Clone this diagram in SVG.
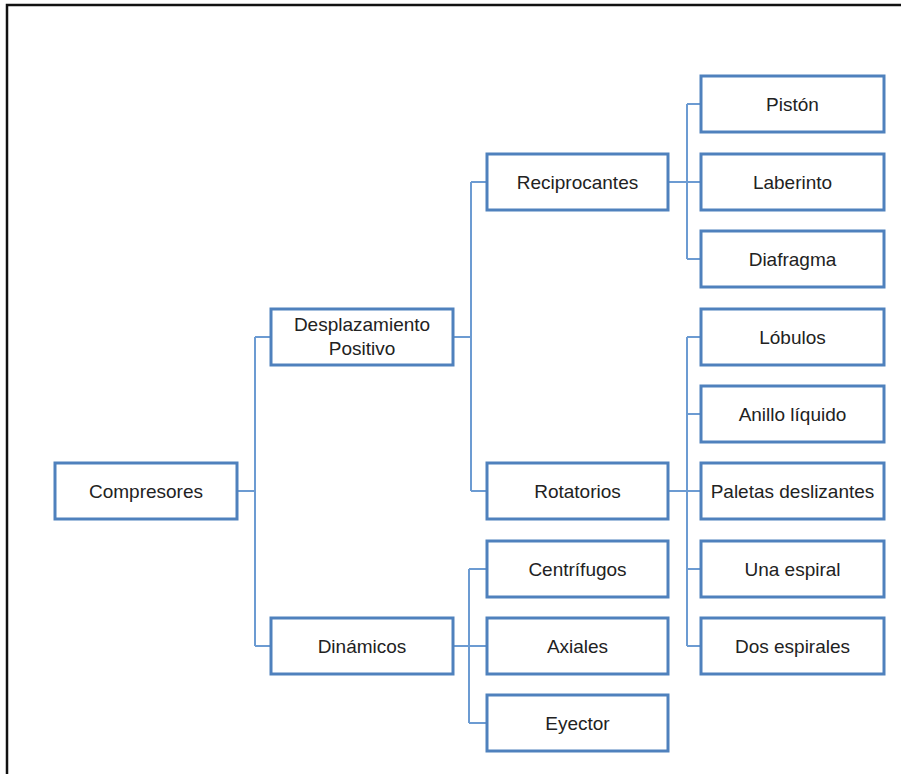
<svg xmlns="http://www.w3.org/2000/svg" width="901" height="774" viewBox="0 0 901 774">
<style>
.box{fill:#fff;stroke:#4F81BD;stroke-width:3}
.lbl{font-family:"Liberation Sans",Arial,sans-serif;font-size:19px;fill:#222;text-anchor:middle}
.con{fill:none;stroke:#6C9BD2;stroke-width:2}
.frame{fill:none;stroke:#111;stroke-width:2.5}
</style>
<rect width="901" height="774" fill="#fff"/>
<path class="frame" d="M7,774 V5 H901"/>
<g id="connectors">
<path class="con" d="M237,491 H255 M255,337 V646 M255,337 H271 M255,646 H271"/>
<path class="con" d="M453,337 H471 M471,182 V491 M471,182 H487 M471,491 H487"/>
<path class="con" d="M668,182 H701 M687,104 V259 M687,104 H701 M687,259 H701"/>
<path class="con" d="M668,491 H701 M687,337 V646 M687,337 H701 M687,414 H701 M687,569 H701 M687,646 H701"/>
<path class="con" d="M453,646 H487 M469,569 V723 M469,569 H487 M469,723 H487"/>
</g>
<g id="compresores"><rect class="box" x="55" y="463" width="182" height="56"/><text class="lbl" x="146" y="498">Compresores</text></g>
<g id="desplazamiento"><rect class="box" x="271" y="309" width="182" height="56"/><text class="lbl" x="362" y="331">Desplazamiento</text><text class="lbl" x="362" y="355">Positivo</text></g>
<g id="dinamicos"><rect class="box" x="271" y="618" width="182" height="56"/><text class="lbl" x="362" y="653">Dinámicos</text></g>
<g id="reciprocantes"><rect class="box" x="487" y="154" width="181" height="56"/><text class="lbl" x="577.5" y="189">Reciprocantes</text></g>
<g id="rotatorios"><rect class="box" x="487" y="463" width="181" height="56"/><text class="lbl" x="577.5" y="498">Rotatorios</text></g>
<g id="centrifugos"><rect class="box" x="487" y="541" width="181" height="56"/><text class="lbl" x="577.5" y="576">Centrífugos</text></g>
<g id="axiales"><rect class="box" x="487" y="618" width="181" height="56"/><text class="lbl" x="577.5" y="653">Axiales</text></g>
<g id="eyector"><rect class="box" x="487" y="695" width="181" height="56"/><text class="lbl" x="577.5" y="730">Eyector</text></g>
<g id="piston"><rect class="box" x="701" y="76" width="183" height="56"/><text class="lbl" x="792.5" y="111">Pistón</text></g>
<g id="laberinto"><rect class="box" x="701" y="154" width="183" height="56"/><text class="lbl" x="792.5" y="189">Laberinto</text></g>
<g id="diafragma"><rect class="box" x="701" y="231" width="183" height="56"/><text class="lbl" x="792.5" y="266">Diafragma</text></g>
<g id="lobulos"><rect class="box" x="701" y="309" width="183" height="56"/><text class="lbl" x="792.5" y="344">Lóbulos</text></g>
<g id="anillo"><rect class="box" x="701" y="386" width="183" height="56"/><text class="lbl" x="792.5" y="421">Anillo líquido</text></g>
<g id="paletas"><rect class="box" x="701" y="463" width="183" height="56"/><text class="lbl" x="792.5" y="498">Paletas deslizantes</text></g>
<g id="una"><rect class="box" x="701" y="541" width="183" height="56"/><text class="lbl" x="792.5" y="576">Una espiral</text></g>
<g id="dos"><rect class="box" x="701" y="618" width="183" height="56"/><text class="lbl" x="792.5" y="653">Dos espirales</text></g>
</svg>
